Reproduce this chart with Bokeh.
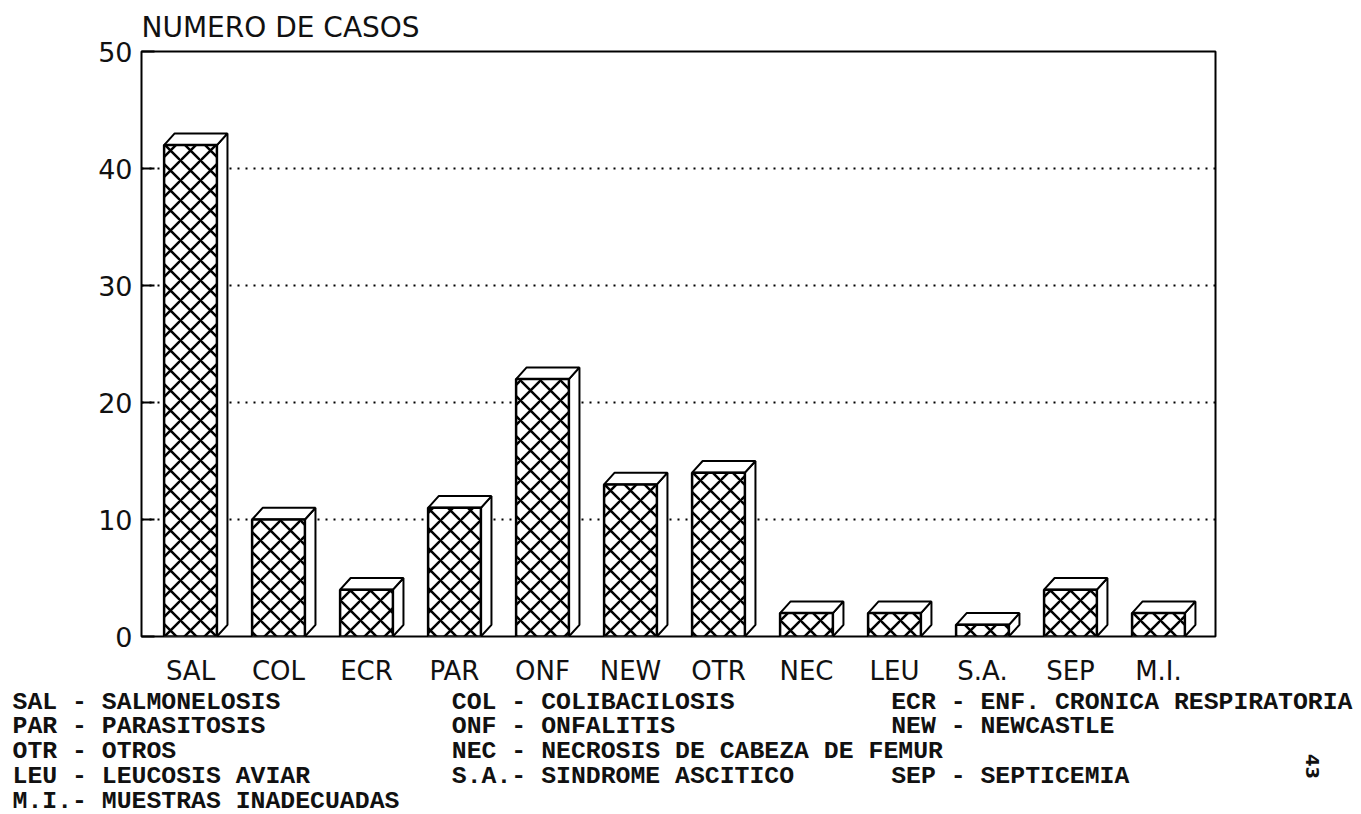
import math
from bokeh.plotting import figure
from bokeh.models import Range1d, FixedTicker
from bokeh.core.properties import value
from bokeh.embed import file_html
from bokeh.resources import INLINE

# ---------------- data ----------------
categories = ["SAL", "COL", "ECR", "PAR", "ONF", "NEW", "OTR", "NEC", "LEU", "S.A.", "SEP", "M.I."]
casos = [42, 10, 4, 11, 22, 13, 14, 2, 2, 1, 4, 2]
y_ticks = [0, 10, 20, 30, 40, 50]
grid_levels = [10, 20, 30, 40]
title_text = "NUMERO DE CASOS"
legend_abbr = ["SAL", "COL", "ECR", "PAR", "ONF", "NEW", "OTR", "NEC", "LEU", "S.A.", "SEP", "M.I."]
legend_names = ["SALMONELOSIS", "COLIBACILOSIS", "ENF. CRONICA RESPIRATORIA",
                "PARASITOSIS", "ONFALITIS", "NEWCASTLE",
                "OTROS", "NECROSIS DE CABEZA DE FEMUR",
                "LEUCOSIS AVIAR", "SINDROME ASCITICO", "SEPTICEMIA",
                "MUESTRAS INADECUADAS"]
page_number = "43"

# ---------------- layout / style ----------------
legend_slots = [(0, 0), (0, 29), (0, 58), (1, 0), (1, 29), (1, 58),
                (2, 0), (2, 29), (3, 0), (3, 29), (3, 58), (4, 0)]  # (row, character column)
FRAME_LEFT, FRAME_TOP, FRAME_RIGHT, FRAME_BOTTOM = 141, 49, 1215, 636  # page px
FIG_W = 1356
FOOT_W = 1361
MAIN_H = 688
FOOT_H = 126
BAR_W, DX, DY = 0.6, 0.12, 1.0

p = figure(width=FIG_W, height=MAIN_H, output_backend="svg", toolbar_location=None,
           x_range=Range1d(-0.557, 11.648), y_range=Range1d(0, 50),
           min_border_left=FRAME_LEFT, min_border_top=FRAME_TOP,
           min_border_right=FIG_W - FRAME_RIGHT,
           min_border_bottom=MAIN_H - FRAME_BOTTOM)
p.outline_line_color = "black"
p.outline_line_width = 2
p.background_fill_color = "white"
p.border_fill_color = "white"

p.title.text = title_text
p.title.align = "left"
p.title.text_font = "DejaVu Sans"
p.title.text_font_style = "normal"
p.title.text_font_size = "28px"
p.title.text_color = "#111111"
p.title.standoff = 16

xs = list(range(len(categories)))
lefts = [i - BAR_W / 2 for i in xs]
rights = [i + BAR_W / 2 for i in xs]

side_xs = [[r, r + DX, r + DX, r] for r in rights]
side_ys = [[0, DY, v + DY, v] for v in casos]
top_xs = [[l, l + DX, r + DX, r] for l, r in zip(lefts, rights)]
top_ys = [[v, v + DY, v + DY, v] for v in casos]

p.patches(side_xs, side_ys, fill_color="white", line_color="black", line_width=2)
p.patches(top_xs, top_ys, fill_color="white", line_color="black", line_width=2)
p.quad(left=lefts, right=rights, bottom=0, top=casos, fill_color="white",
       hatch_pattern="x", hatch_color="black", hatch_scale=20, hatch_weight=2.5,
       line_color="black", line_width=2.5)

# axes
p.xaxis.ticker = FixedTicker(ticks=xs)
p.xaxis.major_label_overrides = {i: c for i, c in zip(xs, categories)}
p.xaxis.major_tick_line_color = None
p.xaxis.major_tick_in = 0
p.xaxis.major_tick_out = 0
p.xaxis.minor_tick_line_color = None
p.xaxis.minor_tick_in = 0
p.xaxis.minor_tick_out = 0
p.xaxis.axis_line_color = None
p.xaxis.major_label_text_font = "DejaVu Sans"
p.xaxis.major_label_text_font_size = "26px"
p.xaxis.major_label_text_color = "#111111"
p.xaxis.major_label_standoff = 19

p.yaxis.ticker = FixedTicker(ticks=y_ticks)
p.yaxis.major_tick_in = 13
p.yaxis.major_tick_out = 0
p.yaxis.major_tick_line_width = 2
p.yaxis.major_tick_line_color = "black"
p.yaxis.minor_tick_line_color = None
p.yaxis.axis_line_color = None
p.yaxis.major_label_text_font = "DejaVu Sans"
p.yaxis.major_label_text_font_size = "27px"
p.yaxis.major_label_text_color = "#111111"
p.yaxis.major_label_standoff = 9

p.xgrid.grid_line_color = None
p.ygrid.ticker = FixedTicker(ticks=grid_levels)
p.ygrid.grid_line_color = "black"
p.ygrid.grid_line_dash = "2 6"
p.ygrid.grid_line_width = 2

# ---------------- footer: legend of abbreviations + page number ----------------
f = figure(width=FOOT_W, height=FOOT_H, output_backend="svg", toolbar_location=None,
           x_range=Range1d(0, FOOT_W), y_range=Range1d(FOOT_H, 0),
           min_border=0, x_axis_type=None, y_axis_type=None)
f.outline_line_color = None
f.xgrid.grid_line_color = None
f.ygrid.grid_line_color = None

CHAR_W, ROW_H, X0, Y0 = 15.15, 24.8, 12, 701 - MAIN_H
lx, ly, lt = [], [], []
for (row, col), ab, name in zip(legend_slots, legend_abbr, legend_names):
    lx.append(X0 + col * CHAR_W)
    ly.append(Y0 + row * ROW_H)
    lt.append(f"{ab:<4}- {name}")
f.text(x=lx, y=ly, text=lt, text_font=value("Liberation Mono"), text_font_style="bold",
       text_font_size="24.8px", text_color="#111111", text_align="left", text_baseline="middle")

f.text(x=[1312], y=[766 - MAIN_H], text=[page_number], angle=-math.pi / 2,
       text_font=value("DejaVu Sans"), text_font_style="bold", text_font_size="18px",
       text_color="#111111", text_align="center", text_baseline="middle")

open("out.html", "w").write(file_html([p, f], INLINE))
